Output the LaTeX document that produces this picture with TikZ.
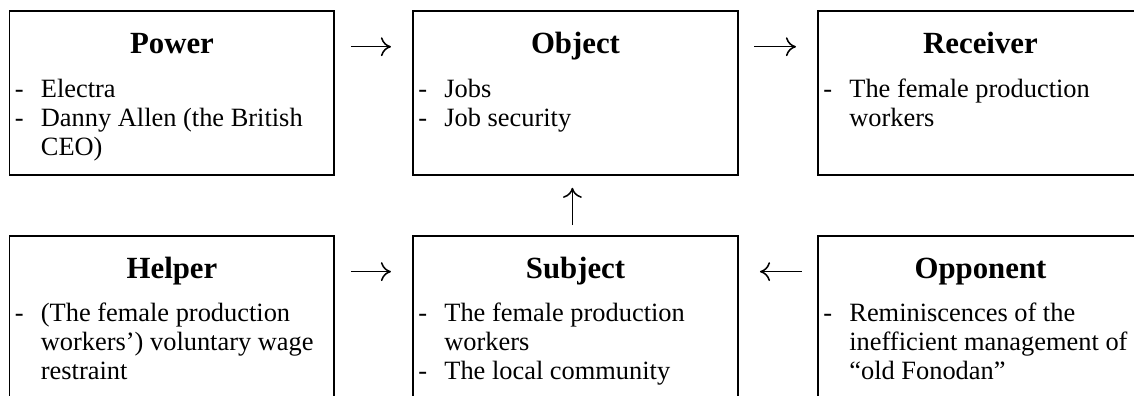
\documentclass[tikz,border=0pt]{standalone}
\usepackage{fontspec}
\setmainfont{Liberation Serif}
\usetikzlibrary{arrows.meta}
\begin{document}
\begin{tikzpicture}[x=0.4545pt,y=-0.4545pt,
  box/.style={draw, line width=0.9pt, rectangle, minimum width=147.7pt,
    minimum height=74.3pt, inner sep=0pt, outer sep=0pt, anchor=north west},
  title/.style={anchor=base, inner sep=0pt, font=\fontsize{14}{16}\selectfont\bfseries},
  items/.style={anchor=base west, inner sep=0pt, font=\fontsize{12}{13.32}\selectfont},
  conn/.style={line width=0.7pt,
    -{Computer Modern Rightarrow[length=4.6pt,width=8.6pt]}},
  hconn/.style={conn, shorten <=7.5pt, shorten >=10pt},
]
\newcommand{\itemlist}[1]{\begin{tabular}[t]{@{}p{11.8pt}@{}l@{}}#1\end{tabular}}
\useasboundingbox (0,0) rectangle (1134,396);
\clip (0,0) rectangle (1134,396);

% top row
\node[box] (power)    at (9.5,11.3) {};
\node[box] (object)   at (413,11.3) {};
\node[box] (receiver) at (818,11.3) {};
% bottom row
\node[box] (helper)   at (9.5,236.2) {};
\node[box] (subject)  at (413,236.2) {};
\node[box] (opponent) at (818,236.2) {};

% titles
\node[title] (powerT)    at (172,53)    {Power};
\node[title] (objectT)   at (575.5,53)  {Object};
\node[title] (receiverT) at (980.5,53)  {Receiver};
\node[title] (helperT)   at (172,278)   {Helper};
\node[title] (subjectT)  at (575.5,278) {Subject};
\node[title] (opponentT) at (980.5,278) {Opponent};

% item lists
\node[items] (powerL) at (14.5,97) {\itemlist{- & Electra\\ - & Danny Allen (the British\\ & CEO)}};
\node[items] (objectL) at (418,97) {\itemlist{- & Jobs\\ - & Job security}};
\node[items] (receiverL) at (823,97) {\itemlist{- & The female production\\ & workers}};
\node[items] (helperL) at (14.5,321) {\itemlist{- & (The female production\\ & workers’) voluntary wage\\ & restraint}};
\node[items] (subjectL) at (418,321) {\itemlist{- & The female production\\ & workers\\ - & The local community}};
\node[items] (opponentL) at (823,321) {\itemlist{- & Reminiscences of the\\ & inefficient management of\\ & “old Fonodan”}};

% connectors
\draw[hconn] ([yshift=-16.1pt]power.north east) -- ([yshift=-16.1pt]object.north west);
\draw[hconn] ([yshift=-16.1pt]object.north east) -- ([yshift=-16.1pt]receiver.north west);
\draw[hconn] ([yshift=-16.1pt]helper.north east) -- ([yshift=-16.1pt]subject.north west);
\draw[hconn] ([yshift=-16.1pt]opponent.north west) -- ([yshift=-16.1pt]subject.north east);
\draw[conn, shorten <=5pt, shorten >=5.9pt] ([xshift=-1.4pt]subject.north) -- ([xshift=-1.4pt]object.south);
\end{tikzpicture}
\end{document}
